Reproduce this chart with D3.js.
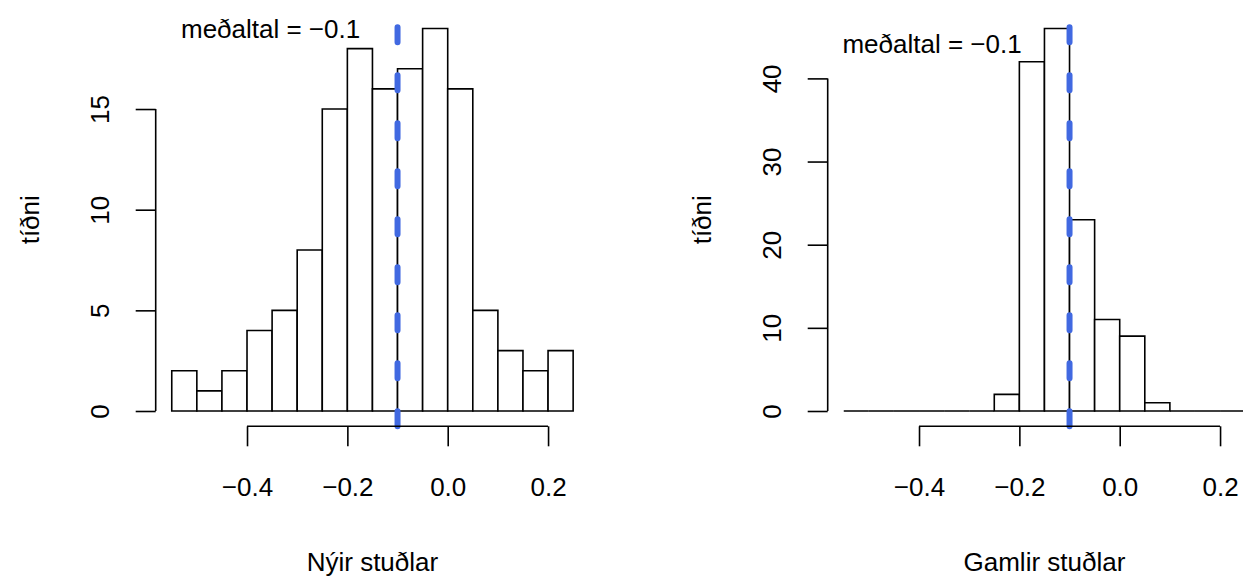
<!DOCTYPE html>
<html>
<head>
<meta charset="utf-8">
<script src="https://cdn.jsdelivr.net/npm/d3@7"></script>
<style>
  body { margin: 0; background: #fff; }
  text { font-family: "Liberation Sans", Arial, sans-serif; fill: #000; }
</style>
</head>
<body>
<div id="chart"></div>
<script>
// bin edges shared by both histograms
var breaks = [-0.55, -0.50, -0.45, -0.40, -0.35, -0.30, -0.25, -0.20, -0.15,
              -0.10, -0.05, 0.00, 0.05, 0.10, 0.15, 0.20, 0.25];

// counts per bin
var newCounts = [2, 1, 2, 4, 5, 8, 15, 18, 16, 17, 19, 16, 5, 3, 2, 3];
var oldCounts = [0, 0, 0, 0, 0, 0, 2, 42, 46, 23, 11, 9, 1, 0, 0, 0];

var meanValues = [-0.1, -0.1];
var meanLabels = ["meðaltal = −0.1", "meðaltal = −0.1"];
var labelX = [-0.353, -0.374];
var labelY = [19, 44.1];

var xTicks = [-0.4, -0.2, 0.0, 0.2];
var xTickLabels = ["−0.4", "−0.2", "0.0", "0.2"];
var yTicksNew = [0, 5, 10, 15];
var yTicksOld = [0, 10, 20, 30, 40];

var xTitles = ["Nýir stuðlar", "Gamlir stuðlar"];
var yTitle = "tíðni";

var W = 1243, H = 576, fs = 26;

var svg = d3.select("#chart").append("svg")
    .attr("width", W)
    .attr("height", H);

var panels = [
  {left: 155.7, right: 589.2, counts: newCounts, yTicks: yTicksNew},
  {left: 827.7, right: 1261.2, counts: oldCounts, yTicks: yTicksOld}
];
var plotTop = 13.2, plotBottom = 426.3;

panels.forEach(function(p, i) {
  // R style 4% axis extension
  var x0 = breaks[0], x1 = breaks[breaks.length - 1];
  var dx = (x1 - x0) * 0.04;
  var x = d3.scaleLinear().domain([x0 - dx, x1 + dx]).range([p.left, p.right]);
  var ymax = d3.max(p.counts);
  var y = d3.scaleLinear().domain([-ymax * 0.04, ymax * 1.04]).range([plotBottom, plotTop]);

  var g = svg.append("g");

  // bars (paths so empty bins still show as a flat line)
  g.selectAll("path.bar")
    .data(p.counts)
    .enter().append("path")
      .attr("class", "bar")
      .attr("fill", "white")
      .attr("stroke", "black")
      .attr("stroke-width", 1.6)
      .attr("d", function(d, j) {
        return "M" + x(breaks[j]) + "," + y(0) +
               "V" + y(d) + "H" + x(breaks[j + 1]) + "V" + y(0) + "Z";
      });

  // mean line
  g.append("line")
    .attr("x1", x(meanValues[i])).attr("x2", x(meanValues[i]))
    .attr("y1", plotBottom).attr("y2", plotTop)
    .attr("stroke", "royalblue")
    .attr("stroke-width", 6)
    .attr("stroke-linecap", "round")
    .attr("stroke-dasharray", "15,33");

  g.append("text")
    .attr("x", x(labelX[i]))
    .attr("y", y(labelY[i]))
    .attr("dy", "0.35em")
    .attr("text-anchor", "middle")
    .style("font-size", fs + "px")
    .text(meanLabels[i]);

  // x axis
  var xa = g.append("g")
    .attr("transform", "translate(0," + plotBottom + ")")
    .call(d3.axisBottom(x).tickValues(xTicks).tickSize(20).tickSizeOuter(0)
      .tickFormat(function(d, k) { return xTickLabels[k]; }));
  xa.select(".domain").remove();
  xa.append("line")
    .attr("x1", x(xTicks[0])).attr("x2", x(xTicks[xTicks.length - 1]))
    .attr("stroke", "black").attr("stroke-width", 1.6);
  xa.selectAll(".tick line").attr("stroke-width", 1.6);
  xa.selectAll(".tick text")
    .attr("y", 69.5).attr("dy", 0)
    .attr("fill", "black")
    .style("font-size", fs + "px")
    .style("font-family", "Liberation Sans, Arial, sans-serif");

  // y axis
  var ya = g.append("g")
    .attr("transform", "translate(" + p.left + ",0)")
    .call(d3.axisLeft(y).tickValues(p.yTicks).tickSize(20).tickSizeOuter(0)
      .tickFormat(d3.format("d")));
  ya.select(".domain").remove();
  ya.append("line")
    .attr("y1", y(p.yTicks[0])).attr("y2", y(p.yTicks[p.yTicks.length - 1]))
    .attr("stroke", "black").attr("stroke-width", 1.6);
  ya.selectAll(".tick line").attr("stroke-width", 1.6);
  ya.selectAll(".tick text")
    .attr("x", null).attr("dy", 0)
    .attr("text-anchor", "middle")
    .attr("transform", "translate(-46.4,0) rotate(-90)")
    .attr("fill", "black")
    .style("font-size", fs + "px")
    .style("font-family", "Liberation Sans, Arial, sans-serif");

  // axis titles
  g.append("text")
    .attr("x", (p.left + p.right) / 2)
    .attr("y", 571)
    .attr("text-anchor", "middle")
    .style("font-size", fs + "px")
    .text(xTitles[i]);

  g.append("text")
    .attr("transform", "translate(" + (p.left - 117) + "," + ((plotTop + plotBottom) / 2) + ") rotate(-90)")
    .attr("text-anchor", "middle")
    .style("font-size", fs + "px")
    .text(yTitle);
});
</script>
</body>
</html>
